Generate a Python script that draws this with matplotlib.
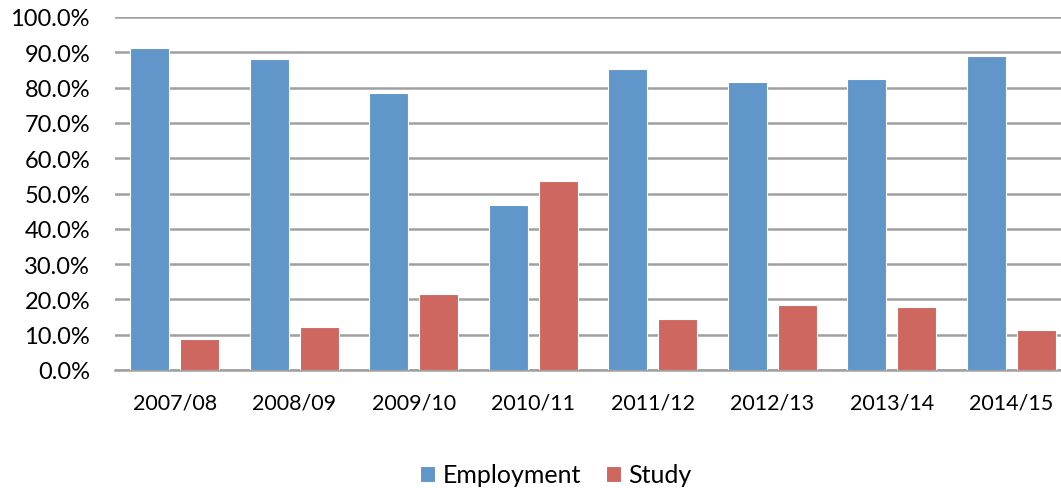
import matplotlib.pyplot as plt
import numpy as np

# data
years = ["2007/08", "2008/09", "2009/10", "2010/11", "2011/12", "2012/13", "2013/14", "2014/15"]
employment = [91.2, 88.1, 78.5, 46.7, 85.3, 81.6, 82.4, 89.0]
study = [8.8, 12.2, 21.5, 53.5, 14.4, 18.4, 17.8, 11.3]

blue = "#6096C9"
red = "#CD6760"
grid_col = "#A0A0A0"

plt.rcParams['font.family'] = ['Lato', 'DejaVu Sans']

fig = plt.figure(figsize=(10.61, 4.89), dpi=100)
W, H = 1061, 489
# axes extend beyond right edge like the cropped original
left, right = 115, 1071
top, bottom = 18, 371
ax = fig.add_axes([left / W, 1 - bottom / H, (right - left) / W, (bottom - top) / H])

x = np.arange(len(years))
w = 0.33
ax.bar(x - 0.209, employment, w, color=blue, edgecolor="white", linewidth=0.8, label="Employment", zorder=3)
ax.bar(x + 0.209, study, w, color=red, edgecolor="white", linewidth=0.8, label="Study", zorder=3)

ax.set_xlim(-0.5, len(years) - 0.5)
ax.set_ylim(0, 100)
ax.set_yticks(np.arange(0, 101, 10))
ax.set_yticklabels([f"{v:.1f}%" for v in np.arange(0, 101, 10)], fontsize=17)
ax.set_xticks(x)
ax.set_xticklabels(years, fontsize=15.5)
ax.tick_params(axis="y", length=0, pad=18)
ax.tick_params(axis="x", length=0, pad=16)
ax.yaxis.grid(True, color=grid_col, linewidth=1.8, zorder=0)
for s in ["top", "right", "left"]:
    ax.spines[s].set_visible(False)
ax.spines["bottom"].set_color(grid_col)
ax.spines["bottom"].set_linewidth(1.8)
ax.set_axisbelow(True)

fig.legend(loc="center", bbox_to_anchor=(556 / W, 1 - 476 / H), ncol=2, frameon=False,
           fontsize=18, handlelength=0.6, handleheight=0.6, handletextpad=0.3, columnspacing=1.0)

fig.savefig("out.png", dpi=100)
